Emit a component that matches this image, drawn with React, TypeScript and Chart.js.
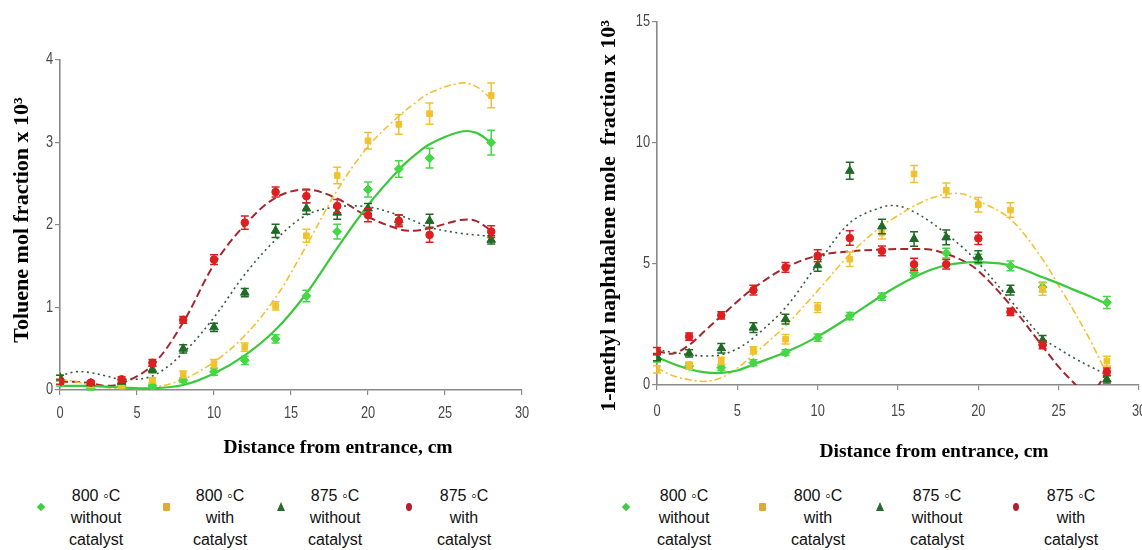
import React, { useEffect, useRef } from "react";
import { Chart, registerables } from "chart.js";
Chart.register(...registerables);

// ---------- data ----------
const distances = [0, 2, 4, 6, 8, 10, 12, 14, 16, 18, 20, 22, 24, 28];
const xTicks = [0, 5, 10, 15, 20, 25, 30];
const tolueneTicks = [0, 1, 2, 3, 4];
const mnTicks = [0, 5, 10, 15];

const seriesLabels = [
  ["800 \u25E6C", "without", "catalyst"],
  ["800 \u25E6C", "with", "catalyst"],
  ["875 \u25E6C", "without", "catalyst"],
  ["875 \u25E6C", "with", "catalyst"],
];

// Toluene (left)
const tol800No = [0.08, 0.02, 0.05, 0.05, 0.12, 0.22, 0.36, 0.62, 1.14, 1.92, 2.43, 2.68, 2.81, 3.0];
const tol800With = [0.15, 0.06, 0.05, 0.12, 0.19, 0.32, 0.52, 1.02, 1.87, 2.6, 3.02, 3.22, 3.35, 3.57];
const tol875No = [0.15, 0.08, 0.1, 0.25, 0.5, 0.76, 1.18, 1.93, 2.2, 2.15, 2.2, 2.06, 2.05, 1.82];
const tol875With = [0.1, 0.09, 0.13, 0.33, 0.85, 1.58, 2.03, 2.4, 2.35, 2.23, 2.12, 2.05, 1.88, 1.92];

const tol800NoErr = [0.03, 0.02, 0.02, 0.02, 0.03, 0.04, 0.05, 0.05, 0.07, 0.09, 0.09, 0.1, 0.12, 0.15];
const tol800WithErr = [0.03, 0.02, 0.02, 0.03, 0.04, 0.05, 0.05, 0.05, 0.08, 0.1, 0.1, 0.12, 0.13, 0.15];
const tol875NoErr = [0.03, 0.02, 0.02, 0.04, 0.05, 0.05, 0.05, 0.08, 0.07, 0.08, 0.06, 0.06, 0.08, 0.05];
const tol875WithErr = [0.03, 0.02, 0.03, 0.04, 0.04, 0.06, 0.08, 0.06, 0.08, 0.08, 0.08, 0.07, 0.09, 0.07];

const tolFitX = [0, 1, 2, 3, 4, 6, 8, 10, 12, 14, 16, 18, 20, 22, 23, 24, 26, 27, 28];
const tol800NoFit = [0.05, 0.05, 0.05, 0.04, 0.03, 0.02, 0.06, 0.2, 0.42, 0.73, 1.17, 1.72, 2.24, 2.67, 2.84, 2.98, 3.13, 3.12, 3.0];
const tol800WithFit = [0.13, 0.1, 0.06, 0.03, 0.02, 0.03, 0.13, 0.34, 0.66, 1.12, 1.75, 2.42, 2.95, 3.32, 3.47, 3.6, 3.72, 3.68, 3.53];
const tol875NoFit = [0.17, 0.22, 0.21, 0.17, 0.13, 0.17, 0.45, 0.88, 1.4, 1.82, 2.12, 2.22, 2.22, 2.12, 2.05, 1.97, 1.9, 1.88, 1.86];
const tol875WithFit = [0.1, 0.1, 0.08, 0.05, 0.08, 0.3, 0.82, 1.52, 2.0, 2.33, 2.43, 2.32, 2.1, 1.95, 1.93, 1.96, 2.06, 2.05, 1.93];

// 1-methyl naphthalene (right)
const mn800No = [1.1, 0.78, 0.72, 0.92, 1.34, 1.96, 2.85, 3.65, 4.65, 5.45, 5.2, 4.92, 4.05, 3.41];
const mn800With = [0.65, 0.8, 1.0, 1.43, 1.89, 3.2, 5.2, 6.28, 8.72, 8.05, 7.45, 7.23, 3.96, 0.99];
const mn875No = [1.15, 1.31, 1.52, 2.37, 2.72, 4.95, 8.85, 6.55, 6.03, 6.1, 5.3, 3.92, 1.85, 0.23];
const mn875With = [1.4, 2.0, 2.88, 3.92, 4.86, 5.34, 6.07, 5.54, 4.99, 4.99, 6.06, 3.02, 1.65, 0.55];

const mn800NoErr = [0.15, 0.12, 0.12, 0.12, 0.12, 0.15, 0.15, 0.15, 0.15, 0.2, 0.2, 0.2, 0.2, 0.25];
const mn800WithErr = [0.15, 0.15, 0.15, 0.15, 0.2, 0.2, 0.3, 0.25, 0.35, 0.3, 0.3, 0.3, 0.25, 0.2];
const mn875NoErr = [0.15, 0.15, 0.2, 0.2, 0.2, 0.25, 0.35, 0.3, 0.3, 0.3, 0.25, 0.2, 0.2, 0.15];
const mn875WithErr = [0.15, 0.15, 0.15, 0.2, 0.2, 0.25, 0.3, 0.2, 0.25, 0.2, 0.25, 0.15, 0.15, 0.15];

const mnFitX = [0, 1, 2, 3, 4, 5, 6, 8, 10, 12, 14, 15, 16, 17, 18, 19, 20, 22, 24, 25, 26, 27, 28];
const mn800NoFit = [1.15, 0.88, 0.66, 0.52, 0.5, 0.6, 0.85, 1.35, 2.0, 2.82, 3.7, 4.1, 4.45, 4.75, 4.95, 5.05, 5.08, 4.95, 4.45, 4.2, 3.92, 3.65, 3.35];
const mn800WithFit = [0.7, 0.38, 0.22, 0.15, 0.3, 0.7, 1.25, 2.45, 3.9, 5.4, 6.58, 7.0, 7.4, 7.7, 7.88, 7.9, 7.62, 6.85, 5.2, 4.1, 3.0, 1.8, 0.45];
const mn875NoFit = [1.45, 1.35, 1.25, 1.2, 1.25, 1.5, 1.95, 3.2, 5.0, 6.7, 7.35, 7.4, 7.15, 6.75, 6.25, 5.7, 5.05, 3.5, 1.95, 1.5, 1.1, 0.75, 0.42];
const mnRedFitX = [0, 1, 2, 3, 4, 5, 6, 8, 10, 12, 14, 15, 16, 17, 18, 19, 20, 22, 24, 25, 26, 26.8, 27.5, 28];
const mn875WithFit = [1.4, 1.3, 1.65, 2.25, 2.85, 3.45, 4.0, 4.85, 5.35, 5.52, 5.6, 5.62, 5.62, 5.6, 5.42, 5.15, 4.72, 3.3, 1.6, 0.75, 0.05, -0.5, 0.02, 0.55];

// ---------- styles ----------
const SERIF = "'Liberation Serif', 'Times New Roman', serif";
const SANS = "'Liberation Sans', Arial, sans-serif";

const markerStyles = [
  { color: "#45d845", shape: "rectRot", radius: 4.5 },
  { color: "#f2c12e", shape: "rect", radius: 4 },
  { color: "#1f6b26", shape: "triangle", radius: 5 },
  { color: "#de1f1f", shape: "circle", radius: 3.8 },
];
const lineStyles = [
  { color: "#3cc83c", width: 2.2, dash: [] as number[] },
  { color: "#f0c232", width: 1.6, dash: [7, 3, 2, 3] },
  { color: "#35583f", width: 1.6, dash: [2, 3.5] },
  { color: "#a5262c", width: 2, dash: [8, 4] },
];

const pairs = (xs: number[], ys: number[]) => xs.map((x, i) => ({ x, y: ys[i] }));

const errorBarPlugin = {
  id: "errorBars",
  beforeDatasetDraw(chart: any, args: any) {
    const ds = chart.data.datasets[args.index];
    if (!ds.errors) return;
    const y = chart.scales.y;
    const ctx = chart.ctx;
    ctx.save();
    ctx.strokeStyle = ds.errorColor;
    ctx.lineWidth = 1.5;
    args.meta.data.forEach((el: any, i: number) => {
      const d = ds.data[i];
      const e = ds.errors[i];
      if (!d || e == null) return;
      const top = y.getPixelForValue(d.y + e);
      const bot = y.getPixelForValue(Math.max(d.y - e, 0));
      ctx.beginPath();
      ctx.moveTo(el.x, top);
      ctx.lineTo(el.x, bot);
      ctx.moveTo(el.x - 4, top);
      ctx.lineTo(el.x + 4, top);
      ctx.moveTo(el.x - 4, bot);
      ctx.lineTo(el.x + 4, bot);
      ctx.stroke();
    });
    ctx.restore();
  },
};

// Axis titles and condensed tick labels, placed from the chart's own scales
const titlePlugin = {
  id: "fixedTitles",
  afterDraw(chart: any, _a: any, o: any) {
    const ctx = chart.ctx;
    const xs = chart.scales.x;
    const ys = chart.scales.y;
    ctx.save();
    ctx.fillStyle = "#484848";
    ctx.font = `16px ${SANS}`;
    ctx.textBaseline = "middle";
    xs.ticks.forEach((t: any) => {
      const px = xs.getPixelForValue(t.value);
      ctx.save();
      ctx.translate(px, o.xLabelY);
      ctx.scale(0.8, 1);
      ctx.textAlign = "center";
      ctx.fillText(String(t.value), 0, 0);
      ctx.restore();
    });
    ys.ticks.forEach((t: any) => {
      const py = ys.getPixelForValue(t.value);
      ctx.save();
      ctx.translate(ys.right - 7, py);
      ctx.scale(0.8, 1);
      ctx.textAlign = "right";
      ctx.fillText(String(t.value), 0, 0);
      ctx.restore();
    });
    ctx.fillStyle = "#000";
    ctx.textAlign = "center";
    ctx.font = `bold ${o.xSize}px ${SERIF}`;
    ctx.fillText(o.xText, o.xX, o.xY);
    ctx.translate(o.yX, o.yY);
    ctx.rotate(-Math.PI / 2);
    ctx.font = `bold ${o.ySize}px ${SERIF}`;
    ctx.fillText(o.yText, 0, 0);
    ctx.restore();
  },
};

type PanelProps = {
  points: number[][];
  errors: number[][];
  fits: { x: number[]; y: number[] }[];
  yMax: number;
  yTicks: number[];
  area: { left: number; right: number; top: number; bottom: number };
  canvasW: number;
  canvasH: number;
  titles: any;
};

function Panel(p: PanelProps) {
  const ref = useRef<HTMLCanvasElement>(null);
  useEffect(() => {
    if (!ref.current) return;
    const datasets: any[] = [];
    p.points.forEach((vals, i) => {
      const m = markerStyles[i];
      datasets.push({
        label: seriesLabels[i].join(" "),
        data: pairs(distances, vals),
        errors: p.errors[i],
        errorColor: m.color,
        showLine: false,
        pointStyle: m.shape,
        pointRadius: m.radius,
        pointBackgroundColor: m.color,
        pointBorderColor: m.color,
        pointBorderWidth: 1,
        order: 10 - i,
      });
    });
    p.fits.forEach((f, i) => {
      const l = lineStyles[i];
      datasets.push({
        label: seriesLabels[i].join(" ") + " (fit)",
        data: pairs(f.x, f.y),
        showLine: true,
        pointRadius: 0,
        borderColor: l.color,
        borderWidth: l.width,
        borderDash: l.dash,
        tension: 0.35,
        fill: false,
        order: 20,
      });
    });
    const axisColor = "#8a8a8a";
    const chart = new Chart(ref.current, {
      type: "scatter",
      data: { datasets },
      plugins: [errorBarPlugin, titlePlugin],
      options: {
        animation: false,
        responsive: false,
        events: [],
        layout: {
          padding: {
            left: 0,
            top: p.area.top,
            right: p.canvasW - p.area.right,
            bottom: 0,
          },
        },
        plugins: {
          legend: { display: false },
          tooltip: { enabled: false },
          fixedTitles: p.titles,
        } as any,
        scales: {
          x: {
            type: "linear",
            min: 0,
            max: 30,
            afterBuildTicks: (s: any) => {
              s.ticks = xTicks.map((v) => ({ value: v }));
            },
            afterFit: (s: any) => {
              s.height = p.canvasH - p.area.bottom;
            },
            grid: { display: true, drawOnChartArea: false, drawTicks: true, tickLength: 5, color: axisColor, lineWidth: 1.2 },
            border: { display: true, color: axisColor, width: 1.6 },
            ticks: { display: false },
          },
          y: {
            type: "linear",
            min: 0,
            max: p.yMax,
            afterBuildTicks: (s: any) => {
              s.ticks = p.yTicks.map((v) => ({ value: v }));
            },
            afterFit: (s: any) => {
              s.width = p.area.left;
            },
            grid: { display: true, drawOnChartArea: false, drawTicks: true, tickLength: 5, color: axisColor, lineWidth: 1.2 },
            border: { display: true, color: axisColor, width: 1.6 },
            ticks: { display: false },
          },
        },
      } as any,
    });
    return () => chart.destroy();
  }, []);
  return <canvas ref={ref} width={p.canvasW} height={p.canvasH} style={{ display: "block", width: p.canvasW, height: p.canvasH }} />;
}

function LegendMarker({ shape, color, x, y }: { shape: number; color: string; x: number; y: number }) {
  const base: React.CSSProperties = { position: "absolute" };
  if (shape === 0)
    return <div style={{ ...base, left: x - 3, top: y - 3, width: 6, height: 6, background: color, transform: "rotate(45deg)" }} />;
  if (shape === 1) return <div style={{ ...base, left: x - 3.5, top: y - 4, width: 7, height: 8, background: color, borderRadius: 1 }} />;
  if (shape === 2)
    return (
      <div
        style={{
          ...base,
          left: x - 4,
          top: y - 5,
          width: 0,
          height: 0,
          borderLeft: "4px solid transparent",
          borderRight: "4px solid transparent",
          borderBottom: `9px solid ${color}`,
        }}
      />
    );
  return <div style={{ ...base, left: x - 3, top: y - 4, width: 6, height: 8, background: color, borderRadius: "50%" }} />;
}

const legendColors = ["#41cc41", "#e0a83a", "#2a6a2c", "#b3202c"];

function Legend({ markers, texts }: { markers: number[]; texts: number[] }) {
  return (
    <>
      {seriesLabels.map((lines, i) => (
        <React.Fragment key={i}>
          <LegendMarker shape={i} color={legendColors[i]} x={markers[i]} y={507} />
          <div
            style={{
              position: "absolute",
              left: texts[i] - 50,
              top: 485,
              width: 100,
              textAlign: "center",
              font: `16px ${SANS}`,
              lineHeight: "22px",
              color: "#111",
            }}
          >
            {lines.map((t, j) => (
              <div key={j}>{t}</div>
            ))}
          </div>
        </React.Fragment>
      ))}
    </>
  );
}

export default function App() {
  return (
    <div style={{ position: "absolute", left: 0, top: 0, width: 1142, height: 550, overflow: "hidden", background: "#fff" }}>
      <div style={{ position: "absolute", left: 0, top: 0 }}>
        <Panel
          points={[tol800No, tol800With, tol875No, tol875With]}
          errors={[tol800NoErr, tol800WithErr, tol875NoErr, tol875WithErr]}
          fits={[
            { x: tolFitX, y: tol800NoFit },
            { x: tolFitX, y: tol800WithFit },
            { x: tolFitX, y: tol875NoFit },
            { x: tolFitX, y: tol875WithFit },
          ]}
          yMax={4}
          yTicks={tolueneTicks}
          area={{ left: 60, right: 522, top: 60, bottom: 390 }}
          canvasW={571}
          canvasH={470}
          titles={{
            xLabelY: 414,
            xText: "Distance from entrance, cm",
            xX: 338,
            xY: 448,
            xSize: 19.5,
            yText: "Toluene mol fraction x 10\u00B3",
            yX: 22,
            yY: 220,
            ySize: 22,
          }}
        />
      </div>
      <div style={{ position: "absolute", left: 571, top: 0 }}>
        <Panel
          points={[mn800No, mn800With, mn875No, mn875With]}
          errors={[mn800NoErr, mn800WithErr, mn875NoErr, mn875WithErr]}
          fits={[
            { x: mnFitX, y: mn800NoFit },
            { x: mnFitX, y: mn800WithFit },
            { x: mnFitX, y: mn875NoFit },
            { x: mnRedFitX, y: mn875WithFit },
          ]}
          yMax={15}
          yTicks={mnTicks}
          area={{ left: 86, right: 568, top: 22, bottom: 385 }}
          canvasW={600}
          canvasH={470}
          titles={{
            xLabelY: 412,
            xText: "Distance from entrance, cm",
            xX: 934 - 571,
            xY: 452,
            xSize: 19.5,
            yText: "1-methyl naphthalene mole  fraction x 10\u00B3",
            yX: 609 - 571,
            yY: 216,
            ySize: 22,
          }}
        />
      </div>
      <Legend markers={[41, 166, 281, 409]} texts={[96, 220, 335, 464]} />
      <Legend markers={[626, 762, 880, 1016]} texts={[684, 818, 937, 1071]} />
    </div>
  );
}
